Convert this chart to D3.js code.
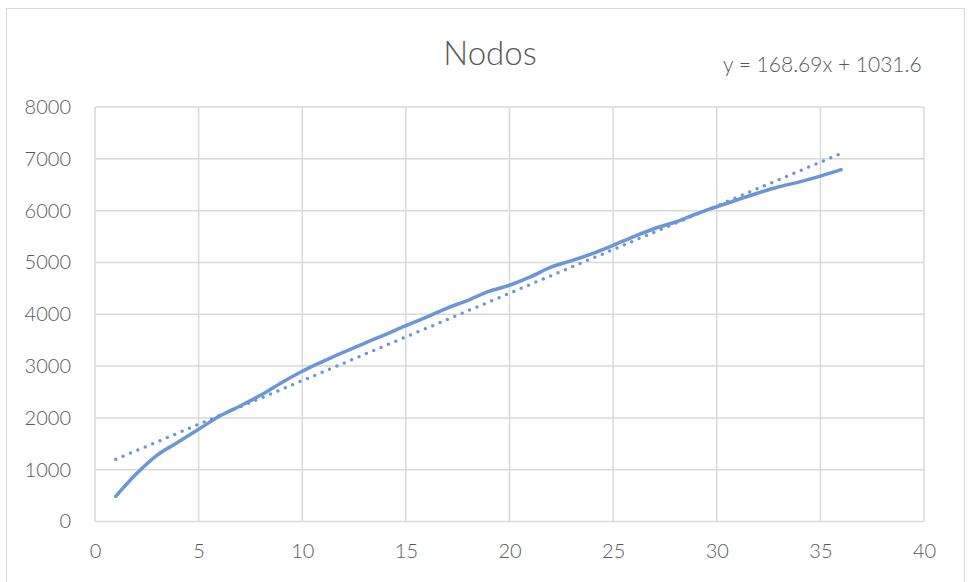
<!DOCTYPE html>
<html>
<head>
<meta charset="utf-8">
<script src="https://cdn.jsdelivr.net/npm/d3@7"></script>
<style>
  html, body { margin: 0; padding: 0; background: #ffffff; }
  svg { display: block; }
  text { font-family: Lato, "Open Sans", sans-serif; font-weight: 300; fill: #595959; }
</style>
</head>
<body>
<svg id="chart" width="969" height="582"></svg>
<script>
// Series: node count per step
const xValues = [1,2,3,4,5,6,7,8,9,10,11,12,13,14,15,16,17,18,19,20,21,22,23,24,25,26,27,28,29,30,31,32,33,34,35,36];
const nodos = [485,920,1280,1530,1780,2030,2230,2440,2680,2900,3090,3270,3440,3605,3780,3945,4120,4270,4440,4560,4720,4910,5035,5170,5330,5500,5655,5780,5935,6075,6210,6340,6460,6555,6665,6790];

// Linear trendline coefficients (as shown in the equation label)
const trendSlope = 168.69;
const trendIntercept = 1031.6;

const xTicks = [0,5,10,15,20,25,30,35,40];
const yTicks = [0,1000,2000,3000,4000,5000,6000,7000,8000];
const title = "Nodos";
const equationLabel = "y = 168.69x + 1031.6";

const svg = d3.select("#chart");
const plot = { left: 95, right: 924, top: 107, bottom: 521.5 };

const x = d3.scaleLinear().domain([0, 40]).range([plot.left, plot.right]);
const y = d3.scaleLinear().domain([0, 8000]).range([plot.bottom, plot.top]);

// Chart border
svg.append("rect")
  .attr("x", 6.5).attr("y", 8.5)
  .attr("width", 958).attr("height", 580)
  .attr("fill", "#ffffff")
  .attr("stroke", "#d9d9d9").attr("stroke-width", 1);

// Gridlines
const grid = svg.append("g").attr("class", "grid");
grid.selectAll("line.h").data(yTicks).join("line")
  .attr("class", "h")
  .attr("x1", plot.left).attr("x2", plot.right)
  .attr("y1", d => y(d)).attr("y2", d => y(d))
  .attr("stroke", "#d9d9d9").attr("stroke-width", 1.5);
grid.selectAll("line.v").data(xTicks).join("line")
  .attr("class", "v")
  .attr("y1", plot.top).attr("y2", plot.bottom)
  .attr("x1", d => x(d)).attr("x2", d => x(d))
  .attr("stroke", "#d9d9d9").attr("stroke-width", 1.5);

// Axes (labels only; lines come from the grid)
const axisFont = "Lato, 'Open Sans', sans-serif";
const xAxis = d3.axisBottom(x).tickValues(xTicks).tickFormat(d3.format("d")).tickSize(0).tickPadding(22);
const gx = svg.append("g").attr("transform", `translate(0,${plot.bottom})`).call(xAxis);
gx.select(".domain").remove();
gx.selectAll("text").style("font-size", "20px").style("font-weight", 300)
  .attr("fill", "#595959").style("font-family", axisFont);

const yAxis = d3.axisLeft(y).tickValues(yTicks).tickFormat(d3.format("d")).tickSize(0).tickPadding(24);
const gy = svg.append("g").attr("transform", `translate(${plot.left},0)`).call(yAxis);
gy.select(".domain").remove();
gy.selectAll("text").style("font-size", "20px").style("font-weight", 300)
  .attr("fill", "#595959").style("font-family", axisFont);

// Smoothed data line
const line = d3.line()
  .x((d, i) => x(xValues[i]))
  .y(d => y(d))
  .curve(d3.curveCatmullRom.alpha(0.5));

svg.append("path")
  .datum(nodos)
  .attr("d", line)
  .attr("fill", "none")
  .attr("stroke", "#6b97d6")
  .attr("stroke-width", 3.5)
  .attr("stroke-linecap", "round")
  .attr("stroke-linejoin", "round");

// Dotted linear trendline
const x0 = xValues[0], x1 = xValues[xValues.length - 1];
svg.append("line")
  .attr("x1", x(x0)).attr("y1", y(trendSlope * x0 + trendIntercept))
  .attr("x2", x(x1)).attr("y2", y(trendSlope * x1 + trendIntercept))
  .attr("stroke", "#6b97d6")
  .attr("stroke-width", 3.5)
  .attr("stroke-linecap", "round")
  .attr("stroke-dasharray", "0 8");

// Title
svg.append("text")
  .attr("x", 490).attr("y", 65)
  .attr("text-anchor", "middle")
  .style("font-size", "33px")
  .text(title);

// Trendline equation
svg.append("text")
  .attr("x", 723).attr("y", 72)
  .style("font-size", "21px")
  .text(equationLabel);
</script>
</body>
</html>
